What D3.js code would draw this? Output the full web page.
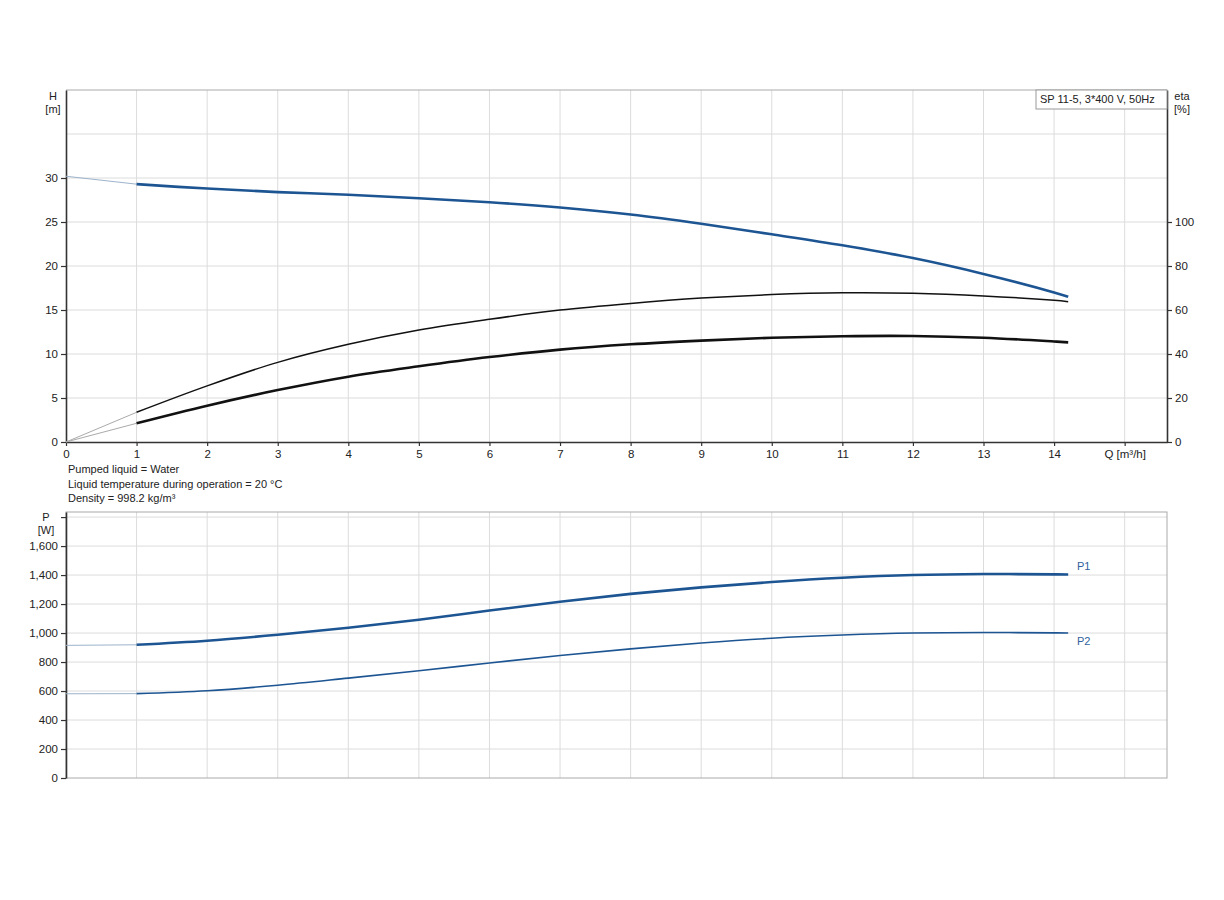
<!DOCTYPE html>
<html>
<head>
<meta charset="utf-8">
<script src="https://cdn.jsdelivr.net/npm/d3@7"></script>
<style>
  body { margin: 0; background: #fff; }
  text { font-family: "Liberation Sans", Arial, sans-serif; fill: #222; }
</style>
</head>
<body>
<div id="chart"></div>
<script>
// pump curve values, Q in m3/h
var qValues  = [0, 1, 2, 3, 4, 5, 6, 7, 8, 9, 10, 11, 12, 13, 14, 14.2];
var headH    = [30.2, 29.3, 28.8, 28.4, 28.1, 27.7, 27.25, 26.65, 25.85, 24.8, 23.6, 22.35, 20.9, 19.1, 17.0, 16.5];
var etaPump  = [0, 13.5, 25.5, 36.2, 44.4, 50.9, 55.8, 60.0, 63.0, 65.4, 67.0, 67.8, 67.6, 66.4, 64.4, 63.8];
var etaTotal = [0, 8.5, 16.5, 23.6, 29.7, 34.4, 38.6, 42.0, 44.4, 46.1, 47.4, 48.1, 48.2, 47.4, 45.7, 45.3];
var powerP1  = [915, 919, 947, 988, 1036, 1092, 1155, 1216, 1270, 1315, 1352, 1381, 1400, 1407, 1405, 1404];
var powerP2  = [581, 582, 602, 640, 689, 740, 793, 845, 891, 931, 964, 986, 1000, 1004, 1001, 1000];

var qTicks   = [0, 1, 2, 3, 4, 5, 6, 7, 8, 9, 10, 11, 12, 13, 14, 15];
var hTicks   = [0, 5, 10, 15, 20, 25, 30];
var hGrid    = [5, 10, 15, 20, 25, 30, 35];
var etaTicks = [0, 20, 40, 60, 80, 100];
var pTicks   = [0, 200, 400, 600, 800, 1000, 1200, 1400, 1600];
var pGrid    = [200, 400, 600, 800, 1000, 1200, 1400, 1600, 1800];
var infoLines = ["Pumped liquid = Water",
                 "Liquid temperature during operation = 20 °C",
                 "Density = 998.2 kg/m³"];
var pumpName = "SP 11-5, 3*400 V, 50Hz";

var W = 1224, H = 900;
var left = 66, right = 1167;
var top1 = 90, bot1 = 442;   // head / eta chart
var top2 = 512, bot2 = 778;  // power chart

var blue = "#1d5593", gridC = "#dcdcdc", axisC = "#333";

var svg = d3.select("#chart").append("svg")
    .attr("width", W).attr("height", H);

var x = d3.scaleLinear().domain([0, 15.6]).range([left, right]);
var yH = d3.scaleLinear().domain([0, 40]).range([bot1, top1]);
var yEta = d3.scaleLinear().domain([0, 160]).range([bot1, top1]);
var yP = d3.scaleLinear().domain([0, 1835]).range([bot2, top2]);

// build point lists
var pts = function(vals) {
    return qValues.map(function(q, i) { return [q, vals[i]]; });
};

/* grid + frame for one panel */
var drawGrid = function(yScale, yGridVals, top, bot) {
    var g = svg.append("g");
    g.selectAll("line.v").data(qTicks.slice(1)).enter().append("line")
        .attr("x1", function(d) { return x(d); }).attr("x2", function(d) { return x(d); })
        .attr("y1", top).attr("y2", bot)
        .attr("stroke", gridC).attr("stroke-width", 1);
    g.selectAll("line.h").data(yGridVals).enter().append("line")
        .attr("x1", left).attr("x2", right)
        .attr("y1", function(d) { return yScale(d); }).attr("y2", function(d) { return yScale(d); })
        .attr("stroke", gridC).attr("stroke-width", 1);
    return g;
};

drawGrid(yH, hGrid, top1, bot1);
drawGrid(yP, pGrid, top2, bot2);

// frames
svg.append("line").attr("x1", left).attr("x2", right).attr("y1", top1).attr("y2", top1)
    .attr("stroke", "#aaa").attr("stroke-width", 1);
svg.append("rect").attr("x", left).attr("y", top2).attr("width", right - left).attr("height", bot2 - top2)
    .attr("fill", "none").attr("stroke", "#aaa").attr("stroke-width", 1);

// axes
var styleAxis = function(g) {
    g.selectAll("path").attr("stroke", axisC).attr("stroke-width", 1.6);
    g.selectAll(".tick line").attr("stroke", axisC).attr("stroke-width", 1.2);
    g.selectAll(".tick text").style("font-size", "11.5px").attr("fill", "#222")
        .style("font-family", "'Liberation Sans', Arial, sans-serif");
};

svg.append("g").attr("transform", "translate(" + left + ",0)")
    .call(d3.axisLeft(yH).tickValues(hTicks).tickSize(5).tickSizeOuter(0).tickPadding(3))
    .call(styleAxis);
svg.append("g").attr("transform", "translate(" + right + ",0)")
    .call(d3.axisRight(yEta).tickValues(etaTicks).tickSize(5).tickSizeOuter(0).tickPadding(3))
    .call(styleAxis);
svg.append("g").attr("transform", "translate(0," + bot1 + ")")
    .call(d3.axisBottom(x).tickValues(qTicks).tickSize(4).tickSizeOuter(0).tickPadding(4)
        .tickFormat(function(d) { return d === 15 ? "Q [m³/h]" : d; }))
    .call(styleAxis);

svg.append("g").attr("transform", "translate(" + left + ",0)")
    .call(d3.axisLeft(yP).tickValues(pTicks.concat([1800])).tickSize(5).tickSizeOuter(0).tickPadding(3)
        .tickFormat(function(d) { return d === 1800 ? "" : d3.format(",")(d); }))
    .call(styleAxis);

// axis titles
var label = function(tx, ty, s, anchor) {
    svg.append("text").attr("x", tx).attr("y", ty).attr("text-anchor", anchor || "middle")
        .style("font-size", "11px").text(s);
};
label(53, 100, "H"); label(53, 113, "[m]");
label(1182, 100, "eta"); label(1182, 113, "[%]");
label(46, 521, "P"); label(46, 534, "[W]");

infoLines.forEach(function(s, i) {
    label(68, 473 + i * 14.5, s, "start");
});

// pump name box
svg.append("rect").attr("x", 1036).attr("y", top1).attr("width", right - 1036).attr("height", 19)
    .attr("fill", "#fff").attr("stroke", "#999").attr("stroke-width", 1);
label(1040, 103, pumpName, "start");

/* draws thin extrapolated part (Q 0..1) and the thick part */
var drawCurve = function(vals, yScale, color, width, thinColor) {
    var p = pts(vals);
    var line = d3.line()
        .x(function(d) { return x(d[0]); })
        .y(function(d) { return yScale(d[1]); })
        .curve(d3.curveCatmullRom.alpha(0.5));
    svg.append("path").attr("d", d3.line()
            .x(function(d) { return x(d[0]); })
            .y(function(d) { return yScale(d[1]); })(p.slice(0, 2)))
        .attr("fill", "none").attr("stroke", thinColor).attr("stroke-width", 1);
    svg.append("path").attr("d", line(p.slice(1)))
        .attr("fill", "none").attr("stroke", color).attr("stroke-width", width)
        .attr("stroke-linecap", "butt");
};

drawCurve(headH, yH, blue, 2.6, "#9db3cc");
drawCurve(etaPump, yEta, "#111", 1.5, "#aaa");
drawCurve(etaTotal, yEta, "#111", 2.6, "#aaa");
drawCurve(powerP1, yP, blue, 2.6, "#9db3cc");
drawCurve(powerP2, yP, blue, 1.6, "#9db3cc");

// curve labels
svg.append("text").attr("x", 1077).attr("y", yP(powerP1[powerP1.length - 1]) - 4)
    .style("font-size", "11px").style("fill", "#2f5f9c").text("P1");
svg.append("text").attr("x", 1077).attr("y", yP(powerP2[powerP2.length - 1]) + 12)
    .style("font-size", "11px").style("fill", "#2f5f9c").text("P2");
</script>
</body>
</html>
